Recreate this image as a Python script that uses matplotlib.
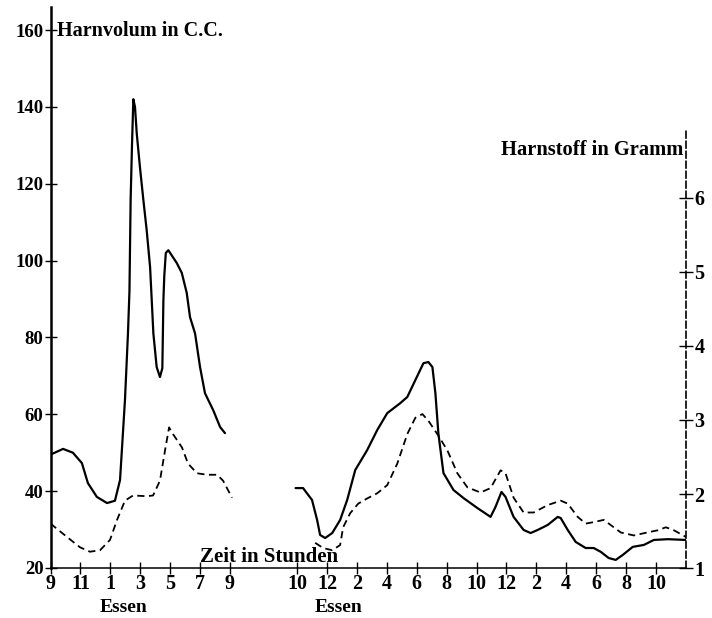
import matplotlib
matplotlib.use("Agg")
import matplotlib.pyplot as plt

plt.rcParams['font.family'] = ['Liberation Serif', 'DejaVu Serif']
plt.rcParams['font.weight'] = 'bold'

# first record: hours after 9 a.m.
day1_vol_hours = [0.0, 0.84, 1.5, 2.1, 2.5, 3.1, 3.78, 4.31, 4.65, 4.98, 5.18,
                  5.28, 5.36, 5.45, 5.54, 5.65, 5.77, 5.99, 6.21, 6.43, 6.66,
                  6.77, 6.88, 7.1, 7.32, 7.48, 7.55, 7.61, 7.71, 7.88, 8.44,
                  8.78, 9.11, 9.33, 9.67, 10.0, 10.33, 10.89, 11.34, 11.67]
day1_volume = [49.5, 51.0, 50.0, 47.3, 42.1, 38.5, 36.9, 37.5, 42.9, 63.7, 81.0,
               92.0, 116.0, 130.0, 142.0, 140.0, 133.0, 124.0, 115.8, 108.0, 98.3,
               89.7, 81.0, 72.3, 69.7, 72.0, 89.7, 96.0, 102.0, 102.7, 99.4,
               96.8, 91.6, 85.3, 81.0, 72.3, 65.5, 61.0, 56.7, 55.1]

day1_urea_hours = [0.0, 1.1, 1.97, 2.64, 3.31, 3.98, 4.45, 4.98, 5.52, 6.45,
                   6.86, 7.32, 7.66, 7.93, 8.19, 8.79, 9.2, 9.8, 10.47, 11.14,
                   11.54, 12.14]
day1_urea = [1.6, 1.42, 1.28, 1.22, 1.24, 1.38, 1.65, 1.91, 1.98, 1.97,
             1.98, 2.18, 2.59, 2.9, 2.81, 2.63, 2.41, 2.28, 2.26, 2.26,
             2.18, 1.95]

# second record: hours after 10 a.m.
day2_vol_hours = [-0.1, 0.4, 1.0, 1.34, 1.54, 1.88, 2.35, 2.88, 3.35, 3.89,
                  4.69, 5.36, 6.03, 6.9, 7.37, 7.91, 8.45, 8.78, 9.05, 9.25,
                  9.45, 9.79, 10.46, 11.13, 12.06, 12.94, 13.27, 13.67, 13.94,
                  14.48, 15.15, 15.62, 16.09, 16.76, 17.43, 17.63, 18.1, 18.63,
                  19.3, 19.84, 20.31, 20.84, 21.31, 21.78, 22.45, 23.19, 23.86,
                  24.8, 26.0]
day2_volume = [40.8, 40.8, 37.7, 32.5, 28.6, 27.8, 29.1, 32.5, 37.7, 45.5,
               50.7, 55.9, 60.3, 62.9, 64.5, 68.9, 73.3, 73.6, 72.3, 65.5,
               55.0, 44.7, 40.3, 38.2, 35.6, 33.3, 35.9, 39.8, 38.5,
               33.3, 29.9, 29.1, 29.9, 31.2, 33.3, 33.0, 29.9, 26.8,
               25.2, 25.2, 24.2, 22.6, 22.1, 23.4, 25.5, 26.0, 27.3,
               27.5, 27.3]

day2_urea_hours = [1.21, 1.74, 2.35, 2.88, 3.08, 3.55, 4.09, 4.69, 5.36, 6.03,
                   6.7, 7.37, 7.91, 8.38, 8.78, 9.38, 10.05, 10.72, 11.39,
                   12.27, 12.94, 13.61, 13.94, 14.48, 15.15, 15.82, 16.76,
                   17.63, 18.1, 18.77, 19.3, 19.84, 20.51, 21.18, 21.65, 22.52,
                   23.19, 24.13, 24.66, 25.2, 26.0]
day2_urea = [1.34, 1.27, 1.24, 1.31, 1.55, 1.74, 1.87, 1.94, 2.01, 2.12,
             2.41, 2.81, 3.03, 3.08, 2.99, 2.81, 2.59, 2.28, 2.09,
             2.02, 2.08, 2.32, 2.28, 1.95, 1.75, 1.75, 1.85,
             1.91, 1.87, 1.69, 1.6, 1.62, 1.65, 1.55, 1.48, 1.44,
             1.47, 1.51, 1.55, 1.51, 1.42]

day1_tick_labels = ['9', '11', '1', '3', '5', '7', '9']
day2_tick_labels = ['10', '12', '2', '4', '6', '8', '10', '12', '2', '4', '6', '8', '10']
volume_ticks = [20, 40, 60, 80, 100, 120, 140, 160]
urea_ticks = [1, 2, 3, 4, 5, 6]

# where the second record starts on the shared time axis
DAY2_START = 16.49

W, H = 712, 618
fig = plt.figure(figsize=(W / 100, H / 100), dpi=100)
ax = fig.add_axes([50.5 / W, 50 / H, (686 - 50.5) / W, 561 / H])
ax.set_xlim(0, 42.5)
ax.set_ylim(20, 166)

line_kw = dict(color='black', lw=1.6, solid_joinstyle='round', solid_capstyle='round')
ax.plot(day1_vol_hours, day1_volume, **line_kw)
ax.plot([h + DAY2_START for h in day2_vol_hours], day2_volume, **line_kw)

for s in ['top', 'right']:
    ax.spines[s].set_visible(False)
ax.spines['left'].set_linewidth(1.8)
ax.spines['bottom'].set_linewidth(1.1)

xt = [2 * i for i in range(len(day1_tick_labels))]
xt += [DAY2_START + 2 * i for i in range(len(day2_tick_labels))]
ax.set_xticks(xt)
ax.set_xticklabels(day1_tick_labels + day2_tick_labels)
ax.tick_params(axis='x', direction='inout', length=8, width=1, labelsize=14.5, pad=0)
ax.set_yticks(volume_ticks)
ax.tick_params(axis='y', direction='inout', length=8, width=1, labelsize=13.5, pad=1)

# urea on its own scale, right hand side
ax2 = ax.twinx()
ax2.set_ylim(1, 1 + 561 / 74.0)
dash_kw = dict(color='black', lw=1.3, dashes=(4, 2.5), dash_joinstyle='round')
ax2.plot(day1_urea_hours, day1_urea, **dash_kw)
ax2.plot([h + DAY2_START for h in day2_urea_hours], day2_urea, **dash_kw)
for s in ['top', 'left', 'bottom']:
    ax2.spines[s].set_visible(False)
ax2.spines['right'].set_bounds(1, 6.9)
ax2.spines['right'].set_linestyle((0, (4, 2)))
ax2.spines['right'].set_linewidth(1.2)
ax2.set_yticks(urea_ticks)
ax2.tick_params(axis='y', direction='inout', length=10, width=1, labelsize=14.5, pad=1)

fig.text(57 / W, 1 - 31 / H, 'Harnvolum in C.C.', fontsize=14.5, va='center', ha='left')
fig.text(683 / W, 1 - 150 / H, 'Harnstoff in Gramm', fontsize=14.8, va='center', ha='right')
fig.text(269 / W, 1 - 557 / H, 'Zeit in Stunden', fontsize=15, va='center', ha='center')
fig.text(124 / W, 1 - 608 / H, 'Essen', fontsize=14, va='center', ha='center')
fig.text(339 / W, 1 - 608 / H, 'Essen', fontsize=14, va='center', ha='center')

fig.savefig('out.png', dpi=100)
